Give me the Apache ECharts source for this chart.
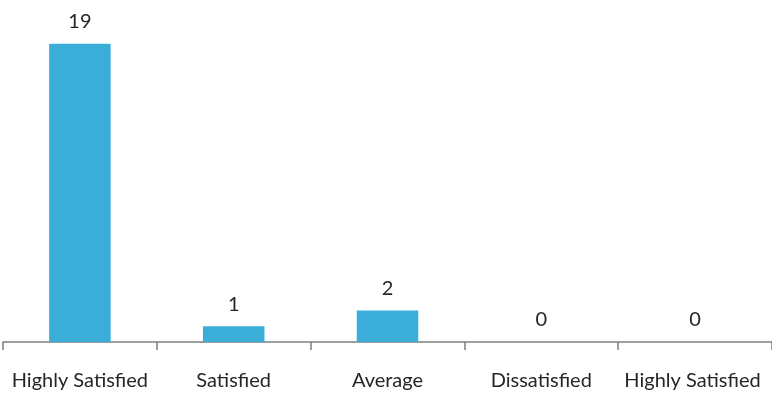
<!DOCTYPE html>
<html><head><meta charset="utf-8">
<script src="https://cdn.jsdelivr.net/npm/echarts@6/dist/echarts.min.js"></script>
<style>html,body{margin:0;padding:0;background:#fff}#c{width:772px;height:400px}</style>
</head><body><div id="c"></div>
<script>
const categories = ["Highly Satisfied", "Satisfied", "Average", "Dissatisfied", "Highly Satisfied "];
const values = [19, 1, 2, 0, 0];
const chart = echarts.init(document.getElementById('c'));
chart.setOption({
  animation: false,
  grid: { left: 3, top: 28, width: 775, bottom: 58, containLabel: false },
  xAxis: {
    type: 'category', data: categories,
    axisLine: { lineStyle: { color: '#7f7f7f', width: 1.5 } },
    axisTick: { show: true, length: 8, lineStyle: { color: '#7f7f7f', width: 1.5 } },
    axisLabel: { color: '#262626', fontFamily: 'Lato', fontSize: 20, margin: 29, interval: 0 }
  },
  yAxis: { type: 'value', min: 0, max: 20, show: false, splitLine: { show: false } },
  series: [{
    type: 'bar', data: values, barWidth: '40%',
    itemStyle: { color: '#3aaed9' },
    label: { show: true, position: 'top', distance: 12, color: '#262626', fontFamily: 'Lato', fontSize: 20 }
  }]
});
</script></body></html>
